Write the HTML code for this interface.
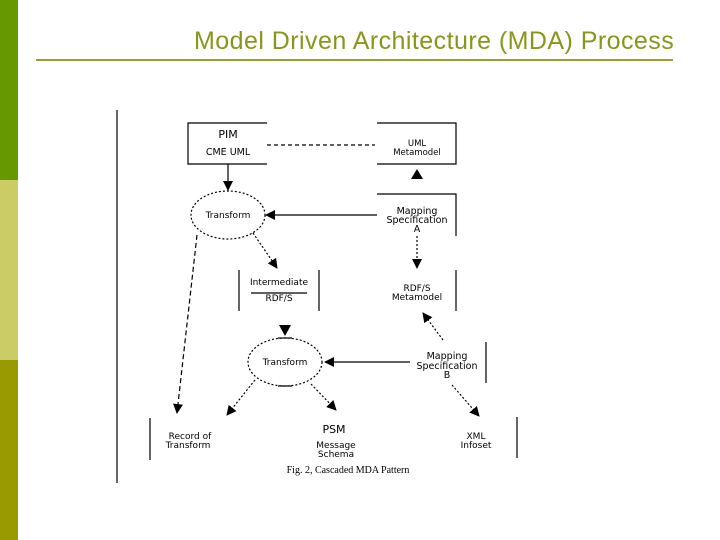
<!DOCTYPE html>
<html><head><meta charset="utf-8"><style>
html,body{margin:0;padding:0;background:#fff;}
body{width:720px;height:540px;position:relative;overflow:hidden;font-family:"Liberation Sans",sans-serif;}
</style></head><body>
<div style="position:absolute;left:0;top:0;width:18px;height:180px;background:#669900"></div>
<div style="position:absolute;left:0;top:180px;width:18px;height:180px;background:#cccc66"></div>
<div style="position:absolute;left:0;top:360px;width:18px;height:180px;background:#999900"></div>
<div style="position:absolute;left:194px;top:27px;font-size:25px;color:#8a961a;white-space:nowrap;letter-spacing:0.45px">Model Driven Architecture (MDA) Process</div>
<div style="position:absolute;left:36px;top:59px;width:637px;height:2px;background:#9aa030"></div>
<svg width="720" height="540" style="position:absolute;left:0;top:0" font-family="DejaVu Sans, sans-serif" font-size="9.5" text-anchor="middle">
<defs>
<marker id="a" markerWidth="10" markerHeight="10" refX="9" refY="5" orient="auto" markerUnits="userSpaceOnUse"><path d="M0,0 L10,5 L0,10 z" fill="#000"/></marker>
</defs>
<g stroke="#000" stroke-width="1.2" fill="none">
<line x1="117" y1="110" x2="117" y2="483"/>
<path d="M267,123 H188 V164 H267"/>
<path d="M377,123 H456 V164 H377"/>
<line x1="267" y1="145" x2="375" y2="145" stroke-dasharray="4,3"/>
<line x1="228" y1="164" x2="228" y2="190" marker-end="url(#a)"/>
<ellipse cx="228" cy="215" rx="37" ry="24" stroke-dasharray="2,2"/>
<path d="M377,194 H456 V236"/>
<line x1="377" y1="215" x2="266" y2="215" marker-end="url(#a)"/>
<line x1="417" y1="236" x2="417" y2="268" stroke-dasharray="2,2" marker-end="url(#a)"/>
<line x1="253" y1="233" x2="277" y2="268" stroke-dasharray="2,2" marker-end="url(#a)"/>
<line x1="239" y1="270" x2="239" y2="311"/>
<line x1="319" y1="270" x2="319" y2="311"/>
<line x1="251" y1="293" x2="307" y2="293"/>
<line x1="456" y1="270" x2="456" y2="311"/>
<line x1="197" y1="235" x2="177" y2="413" stroke-dasharray="5,3" marker-end="url(#a)"/>
<line x1="278" y1="338" x2="292" y2="338"/>
<ellipse cx="285" cy="362" rx="37" ry="24" stroke-dasharray="2,2"/>
<line x1="278" y1="386" x2="292" y2="386"/>
<line x1="486" y1="342" x2="486" y2="383"/>
<line x1="410" y1="362" x2="325" y2="362" marker-end="url(#a)"/>
<line x1="443" y1="340" x2="423" y2="313" stroke-dasharray="2,2" marker-end="url(#a)"/>
<line x1="452" y1="385" x2="479" y2="416" stroke-dasharray="2,2" marker-end="url(#a)"/>
<line x1="255" y1="380" x2="227" y2="415" stroke-dasharray="2,2" marker-end="url(#a)"/>
<line x1="311" y1="384" x2="336" y2="410" stroke-dasharray="2,2" marker-end="url(#a)"/>
<line x1="150" y1="418" x2="150" y2="460"/>
<line x1="517" y1="417" x2="517" y2="458"/>
</g>
<path d="M411,179 L423,179 L417,169 z" fill="#000"/>
<path d="M279,325 L291,325 L285,336 z" fill="#000"/>
<g fill="#000">
<text x="228" y="138" font-size="11">PIM</text>
<text x="228" y="155">CME UML</text>
<text x="417" y="146" font-size="8.5">UML</text>
<text x="417" y="155" font-size="8.5">Metamodel</text>
<text x="228" y="218" font-size="9">Transform</text>
<text x="417" y="214">Mapping</text>
<text x="417" y="223">Specification</text>
<text x="417" y="232">A</text>
<text x="279" y="285" font-size="9">Intermediate</text>
<text x="279" y="301" font-size="9">RDF/S</text>
<text x="417" y="291" font-size="9">RDF/S</text>
<text x="417" y="300" font-size="9">Metamodel</text>
<text x="285" y="365" font-size="9">Transform</text>
<text x="447" y="359">Mapping</text>
<text x="447" y="369">Specification</text>
<text x="447" y="378">B</text>
<text x="190" y="439" font-size="9">Record of</text>
<text x="188" y="448" font-size="9">Transform</text>
<text x="334" y="433" font-size="11">PSM</text>
<text x="336" y="448" font-size="9">Message</text>
<text x="336" y="457" font-size="9">Schema</text>
<text x="476" y="439" font-size="9">XML</text>
<text x="476" y="448" font-size="9">Infoset</text>
<text x="348" y="473" font-family="Liberation Serif, serif" font-size="10">Fig. 2, Cascaded MDA Pattern</text>
</g>
</svg>
</body></html>
